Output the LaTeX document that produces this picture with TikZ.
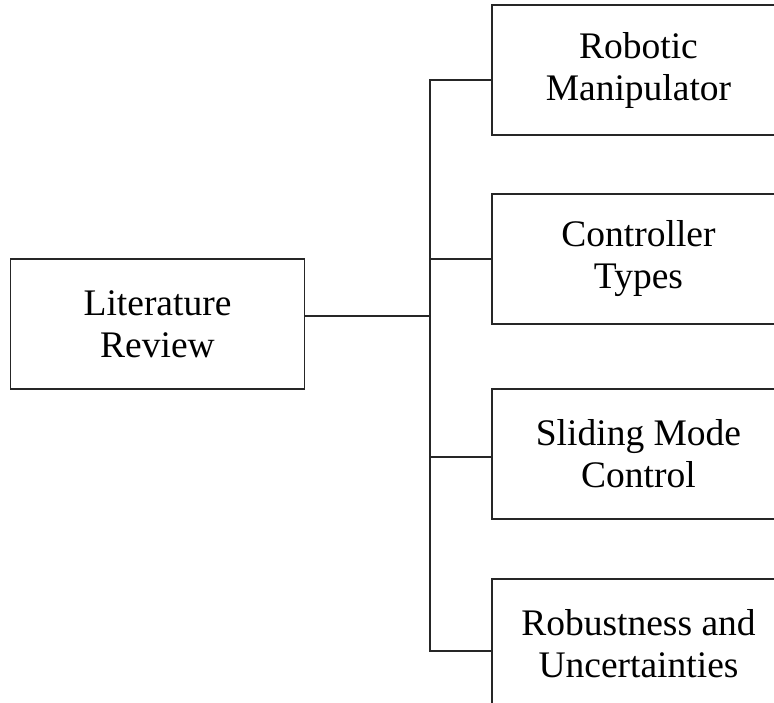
\documentclass[tikz,border=0pt]{standalone}
\usepackage{fontspec}
\setmainfont{Liberation Serif}
\begin{document}
\begin{tikzpicture}[x=1pt,y=-1pt,
  box/.style={draw=black!85, line width=1.3pt, minimum width=293pt, minimum height=130pt,
    inner sep=0pt, align=center, font=\fontsize{37.5}{42}\selectfont},
  rbox/.style={box, minimum width=340pt},
  txt/.style={inner sep=0pt, align=center, font=\fontsize{37.5}{42}\selectfont},
  link/.style={draw=black!85, line width=1.3pt}]
\useasboundingbox (0,0) rectangle (774,703);
\node[box, minimum width=294pt] (lr) at (157.5,324) {Literature\\Review};
\node[rbox] (b1) at (662,70) {};
\node[rbox] (b2) at (662,259) {};
\node[rbox] (b3) at (662,454) {};
\node[rbox] (b4) at (662,644) {};
\node[txt] (t1) at (638.5,70) {Robotic\\Manipulator};
\node[txt] (t2) at (638.5,259) {Controller\\Types};
\node[txt] (t3) at (638.5,454) {Sliding Mode\\Control};
\node[txt] (t4) at (638.5,644) {Robustness and\\Uncertainties};
\coordinate (j0) at (430,316);
\coordinate (j1) at (430,80);
\coordinate (j2) at (430,259);
\coordinate (j3) at (430,457);
\coordinate (j4) at (430,651);
\draw[link] (lr.east |- j0) -- (j0);
\draw[link] (j1 -| b1.west) -- (j1) -- (j4) -- (j4 -| b4.west);
\draw[link] (j2) -- (j2 -| b2.west);
\draw[link] (j3) -- (j3 -| b3.west);
\end{tikzpicture}
\end{document}
